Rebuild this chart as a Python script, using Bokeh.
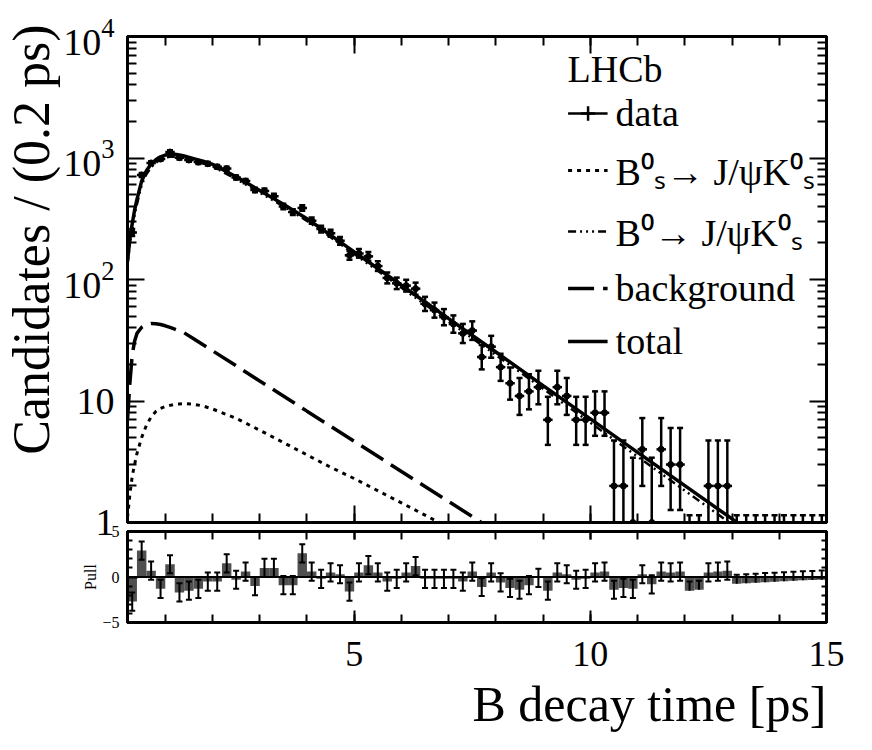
import numpy as np
from bokeh.plotting import figure
from bokeh.models import (Range1d, FixedTicker, LogTickFormatter, CustomJSTickFormatter,
                          LinearAxis, LogAxis, ColumnDataSource, Legend, LegendItem, Title, Span)
from bokeh.layouts import column
from bokeh.embed import file_html
from bokeh.resources import INLINE

# ---------------- data ----------------
bin_centres = [0.3, 0.5, 0.7, 0.9, 1.1, 1.3, 1.5, 1.7, 1.9, 2.1,
               2.3, 2.5, 2.7, 2.9, 3.1, 3.3, 3.5, 3.7, 3.9, 4.1,
               4.3, 4.5, 4.7, 4.9, 5.1, 5.3, 5.5, 5.7, 5.9, 6.1,
               6.3, 6.5, 6.7, 6.9, 7.1, 7.3, 7.5, 7.7, 7.9, 8.1,
               8.3, 8.5, 8.7, 8.9, 9.1, 9.3, 9.5, 9.7, 9.9, 10.1,
               10.3, 10.5, 10.7, 10.9, 11.1, 11.3, 11.5, 11.7, 11.9, 12.1,
               12.3, 12.5, 12.7, 12.9, 13.1, 13.3, 13.5, 13.7, 13.9, 14.1,
               14.3, 14.5, 14.7, 14.9]
bin_half_width = 0.1

counts = [244, 724, 911, 979, 1121, 1005, 962, 925, 897, 846,
          818, 692, 646, 545, 536, 484, 399, 359, 387, 305,
          260, 240, 208, 158, 164, 155, 129, 103, 93, 89,
          84, 63, 56, 49, 43, 36, 38, 23, 28, 19,
          14, 11, 12, 13, 7, 13, 11, 7, 7, 8,
          8, 2, 2, 1, 4, 1, 4, 3, 3, 0,
          0, 2, 2, 2, 0, 0, 0, 0, 0, 0,
          0, 0, 0, 0]

pulls = [-2.7, 2.9, 0.7, -1.3, 1.4, -1.7, -1.5, -1.3, -0.5, -0.5,
         1.5, -0.3, 0.6, -1.0, 1.0, 1.0, -0.9, -0.9, 2.6, 0.6,
         -0.2, 0.5, 0.3, -1.6, 0.5, 1.3, 0.5, -0.5, -0.2, 0.5,
         1.2, -0.2, -0.2, -0.2, -0.2, -0.5, 0.6, -1.1, 0.5, -0.6,
         -1.2, -1.4, -0.9, -0.1, -1.5, 0.5, 0.3, -0.3, -0.2, 0.5,
         0.6, -1.4, -1.2, -1.3, 0.3, -0.8, 0.6, 0.5, 0.6, -1.5,
         -1.4, 0.5, 0.6, 0.7, -0.75, -0.69, -0.63, -0.57, -0.52, -0.47,
         -0.42, -0.37, -0.33, -0.29]

curve_t = [0.2, 0.25, 0.3, 0.35, 0.4, 0.5, 0.6, 0.7, 0.8, 0.9, 1.0, 1.1, 1.2, 1.3, 1.4,
           1.6, 1.8, 2.0, 2.5, 3.0, 3.5, 4.0, 4.5, 5.0, 6.0, 7.0, 8.0, 9.0, 10.0,
           11.0, 12.0, 13.0, 14.0, 15.0]
total = [141, 214, 288, 372, 457, 646, 785, 891, 966, 1023, 1057, 1072, 1072, 1059, 1038,
         989, 940, 887, 700, 540, 417, 316, 232, 169, 89.7, 47.6, 25.3, 13.4, 7.13,
         3.78, 2.01, 1.07, 0.566, 0.30]
b0_sig = [133, 198, 262, 338, 417, 600, 736, 840, 914, 972, 1006, 1022, 1024, 1012, 992,
          947, 902, 852, 673, 520, 401, 304, 223, 162, 85.6, 45.2, 23.9, 12.6, 6.63,
          3.49, 1.83, 0.965, 0.503, 0.261]
bs_sig = [1.1, 1.7, 2.4, 3.0, 3.7, 5.0, 6.3, 7.4, 8.2, 8.7, 9.0, 9.2, 9.4, 9.45, 9.5,
          9.4, 9.1, 8.6, 7.2, 5.75, 4.55, 3.6, 2.85, 2.3, 1.45, 0.91, 0.57, 0.36, 0.23,
          0.145, 0.09, 0.057, 0.036, 0.023]
background = [7, 14, 24, 31, 36, 40.5, 42.8, 43.5, 43.3, 42.6, 41.6, 40.3, 39.0, 37.7, 36.4,
              32.5, 29.0, 25.9, 19.5, 14.6, 11.0, 8.25, 6.2, 4.66, 2.63, 1.49, 0.84, 0.48, 0.27,
              0.15, 0.086, 0.048, 0.027, 0.0157]

y_major = [1, 10, 100, 1000, 10000]
y_minor = [m * d for d in (1, 10, 100, 1000) for m in range(2, 10)]
x_major = [5, 10, 15]
x_minor = list(range(1, 16))
pull_major = [-5, 0, 5]
pull_minor = [-4, -3, -2, -1, 1, 2, 3, 4]

legend_labels = ["data",
                 "B\u2070\u209b\u2192 J/\u03c8K\u2070\u209b",
                 "B\u2070\u2192 J/\u03c8K\u2070\u209b",
                 "background",
                 "total"]

FONT = "Liberation Serif"

# ---------------- derived quantities ----------------
t = np.array(bin_centres)
n = np.array(counts, dtype=float)
nz = n > 0
err_lo = np.sqrt(n)
err_hi = np.where(nz, np.sqrt(n + 1.0) + 1.0, 1.15)
y_lo = np.maximum(n - err_lo, 1e-3)
y_hi = n + err_hi

pl = np.array(pulls)
p_elo = np.where(nz, 1.0, 0.0)
p_ehi = np.ones_like(pl)

empty_fmt = CustomJSTickFormatter(code="return ''")


def style_axis(ax, major_in, minor_in, lw=3):
    ax.major_tick_in = major_in
    ax.major_tick_out = 0
    ax.minor_tick_in = minor_in
    ax.minor_tick_out = 0
    ax.axis_line_width = lw
    ax.axis_line_color = "black"
    ax.major_tick_line_width = 2
    ax.minor_tick_line_width = 2
    ax.major_tick_line_color = "black"
    ax.minor_tick_line_color = "black"
    ax.major_label_text_font = FONT
    ax.major_label_text_color = "black"


xr = Range1d(0.2, 15)

# ---------------- main panel ----------------
p = figure(x_range=xr, y_range=Range1d(1, 1e4), y_axis_type="log",
           frame_width=699, frame_height=486,
           min_border_left=127, min_border_right=30, min_border_top=36, min_border_bottom=22,
           output_backend="svg", toolbar_location=None)
p.grid.visible = False
p.outline_line_color = "black"
p.outline_line_width = 3
p.background_fill_color = "white"
p.border_fill_color = "white"

yt = FixedTicker(ticks=y_major, minor_ticks=y_minor)
xt = FixedTicker(ticks=x_major, minor_ticks=x_minor)

p.yaxis.ticker = yt
p.yaxis.formatter = LogTickFormatter(min_exponent=1)
p.yaxis.major_label_overrides = {10: "10"}
style_axis(p.yaxis[0], 17, 9)
p.yaxis.major_label_text_font_size = "38px"
p.yaxis.major_label_standoff = 13

p.xaxis.ticker = xt
p.xaxis.formatter = empty_fmt
style_axis(p.xaxis[0], 17, 9)
p.xaxis.major_label_standoff = 0

top_ax = LinearAxis(ticker=xt, formatter=empty_fmt, major_label_standoff=0)
style_axis(top_ax, 17, 9)
p.add_layout(top_ax, "above")
right_ax = LogAxis(ticker=yt, formatter=empty_fmt, major_label_standoff=0)
style_axis(right_ax, 17, 9)
p.add_layout(right_ax, "right")

p.add_layout(Title(text="Candidates / (0.2 ps)", align="right", vertical_align="middle",
                   text_font=FONT, text_font_size="52px", text_font_style="normal",
                   text_color="black", offset=-12, standoff=0), "left")

# model curves
r_bs = p.line(curve_t, bs_sig, line_color="black", line_width=3, line_dash="4 5")
r_b0 = p.line(curve_t, b0_sig, line_color="black", line_width=2.5, line_dash="8 4 2 4 2 4 2 4")
r_bkg = p.line(curve_t, background, line_color="black", line_width=3.5, line_dash="26 9")
r_tot = p.line(curve_t, total, line_color="black", line_width=3.5)

# data
src_pts = ColumnDataSource(dict(t=t[nz], n=n[nz], x0=t[nz] - bin_half_width, x1=t[nz] + bin_half_width))
src_err = ColumnDataSource(dict(t=t, lo=y_lo, hi=y_hi))
r_h = p.segment(x0="x0", y0="n", x1="x1", y1="n", source=src_pts, line_color="black", line_width=2.5)
p.segment(x0="t", y0="lo", x1="t", y1="hi", source=src_err, line_color="black", line_width=2.5)
p.scatter(x="t", y="hi", source=src_err, marker="dash", size=6, line_color="black", line_width=2.5)
p.scatter(x="t", y="lo", source=src_err, marker="dash", size=6, line_color="black", line_width=2.5)
r_pts = p.scatter(x="t", y="n", source=src_pts, marker="circle", size=6, fill_color="black", line_color="black")

# legend proxies: zero-size markers on the first data point (only their legend glyph shows)
src_proxy = ColumnDataSource(dict(t=t[nz][:1], n=n[nz][:1]))
r_cross = p.scatter(x="t", y="n", source=src_proxy, marker="cross", size=0, line_color="black", line_width=2.5)
r_dot = p.scatter(x="t", y="n", source=src_proxy, marker="dot", size=0, line_color="black",
                  fill_color="black", line_width=2)

legend = Legend(items=[
    LegendItem(label=legend_labels[0], renderers=[r_h, r_cross, r_dot]),
    LegendItem(label=legend_labels[1], renderers=[r_bs]),
    LegendItem(label=legend_labels[2], renderers=[r_b0]),
    LegendItem(label=legend_labels[3], renderers=[r_bkg]),
    LegendItem(label=legend_labels[4], renderers=[r_tot]),
], location="top_right", title="LHCb",
    title_text_font=FONT, title_text_font_size="38px", title_text_font_style="normal",
    title_text_color="black", title_standoff=0,
    label_text_font=FONT, label_text_font_size="38px", label_text_color="black",
    glyph_width=40, glyph_height=36, label_height=36, label_standoff=8,
    spacing=9, padding=3, margin=8,
    border_line_alpha=0, background_fill_alpha=0)
p.add_layout(legend)

# ---------------- pull panel ----------------
q = figure(x_range=xr, y_range=Range1d(-5, 5),
           frame_width=699, frame_height=91,
           min_border_left=127, min_border_right=30, min_border_top=10, min_border_bottom=10,
           output_backend="svg", toolbar_location=None, margin=(-23, 0, 0, 0))
q.grid.visible = False
q.outline_line_color = "black"
q.outline_line_width = 3
q.background_fill_color = "white"
q.border_fill_alpha = 0

pt = FixedTicker(ticks=pull_major, minor_ticks=pull_minor)
q.yaxis.ticker = pt
style_axis(q.yaxis[0], 10, 5)
q.yaxis.major_label_text_font_size = "16px"
q.yaxis.major_label_standoff = 8
q.yaxis.axis_label = "Pull"
q.yaxis.axis_label_text_font = FONT
q.yaxis.axis_label_text_font_size = "16px"
q.yaxis.axis_label_text_font_style = "normal"
q.yaxis.axis_label_text_color = "black"
q.yaxis.axis_label_standoff = 0

q.xaxis.ticker = xt
style_axis(q.xaxis[0], 12, 8)
q.xaxis.major_label_text_font_size = "36px"
q.xaxis.major_label_standoff = 19

qtop = LinearAxis(ticker=xt, formatter=empty_fmt, major_label_standoff=0)
style_axis(qtop, 8, 8)
q.add_layout(qtop, "above")
qright = LinearAxis(ticker=pt, formatter=empty_fmt, major_label_standoff=0)
style_axis(qright, 10, 5)
q.add_layout(qright, "right")

q.add_layout(Title(text="B decay time [ps]", align="right", text_font=FONT,
                   text_font_size="50px", text_font_style="normal", text_color="black"), "below")

src_pull = ColumnDataSource(dict(t=t, pull=pl, lo=pl - p_elo, hi=pl + p_ehi))
q.vbar(x="t", width=0.2, top="pull", bottom=0, source=src_pull, fill_color="#505050", line_color=None)
q.add_layout(Span(location=0, dimension="width", line_color="black", line_width=2))
q.segment(x0="t", y0="lo", x1="t", y1="hi", source=src_pull, line_color="black", line_width=2)
q.scatter(x="t", y="hi", source=src_pull, marker="dash", size=6, line_color="black", line_width=2)
src_pull_lo = ColumnDataSource(dict(t=t[nz], lo=(pl - p_elo)[nz]))
q.scatter(x="t", y="lo", source=src_pull_lo, marker="dash", size=6, line_color="black", line_width=2)

layout = column(p, q, spacing=0)
open("out.html", "w").write(file_html(layout, INLINE))
